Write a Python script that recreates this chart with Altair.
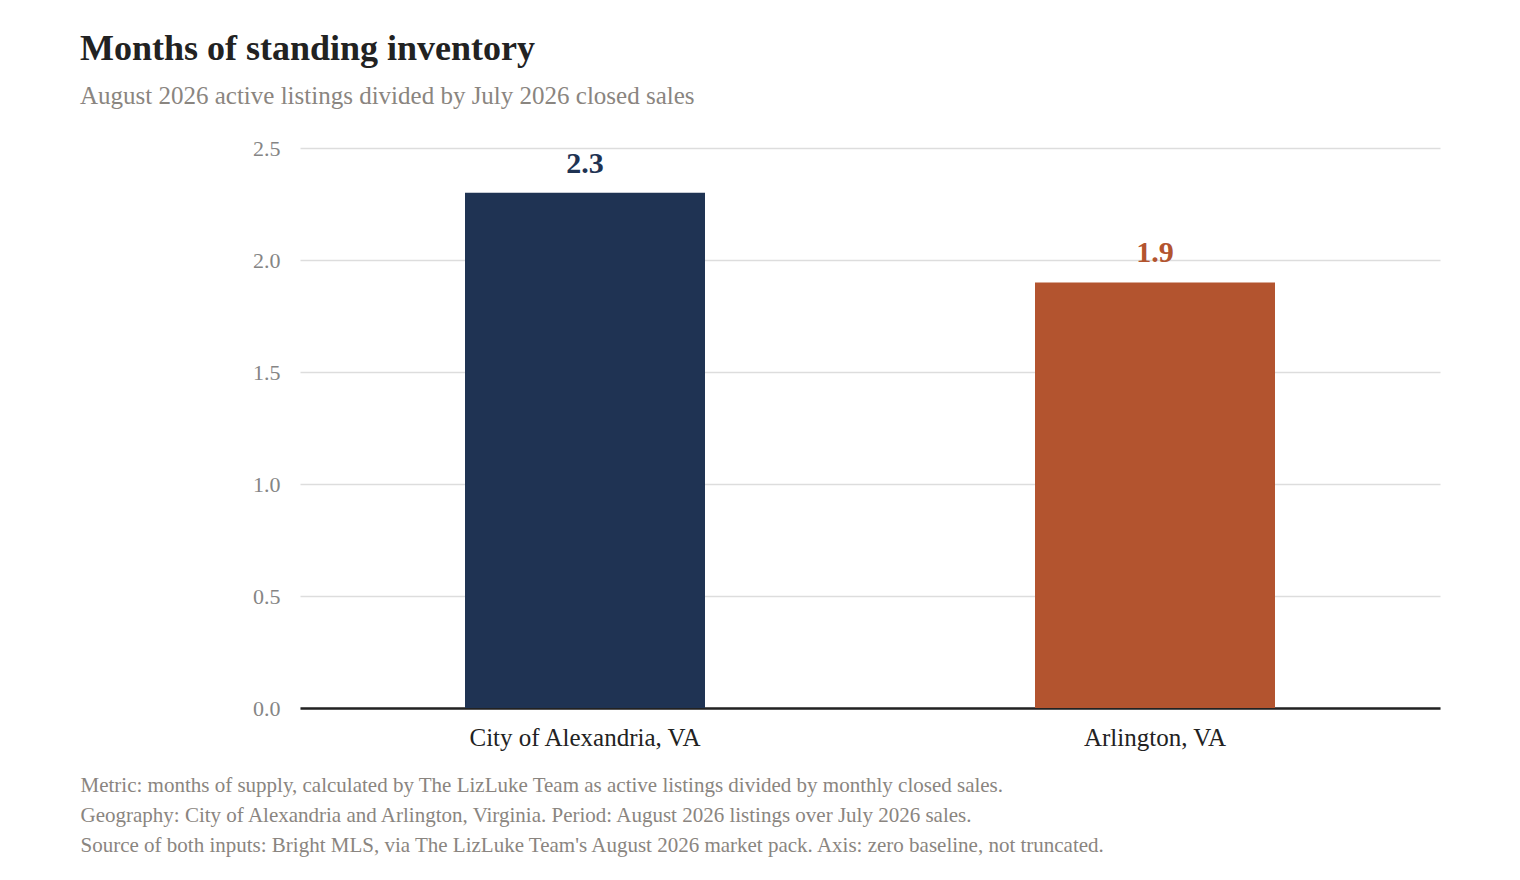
import altair as alt
import pandas as pd

regions = ["City of Alexandria, VA", "Arlington, VA"]
months_supply = [2.3, 1.9]
bar_colors = ["#1f3353", "#b3542f"]
y_ticks = [0.0, 0.5, 1.0, 1.5, 2.0, 2.5]

title_text = "Months of standing inventory"
subtitle_text = "August 2026 active listings divided by July 2026 closed sales"
footer_lines = [
    "Metric: months of supply, calculated by The LizLuke Team as active listings divided by monthly closed sales.",
    "Geography: City of Alexandria and Arlington, Virginia. Period: August 2026 listings over July 2026 sales.",
    "Source of both inputs: Bright MLS, via The LizLuke Team's August 2026 market pack. Axis: zero baseline, not truncated.",
]

df = pd.DataFrame({"region": regions, "value": months_supply})
FONT = "Liberation Serif"

x_enc = alt.X(
    "region:N",
    sort=regions,
    scale=alt.Scale(paddingInner=0, paddingOuter=0),
    axis=alt.Axis(
        title=footer_lines,
        titleFont=FONT,
        titleFontSize=21,
        titleFontWeight="normal",
        titleColor="#8a8580",
        titleAnchor="start",
        titleAlign="left",
        titleBaseline="top",
        titleLineHeight=30,
        titleX=-220,
        titleY=66,
        labelFont=FONT,
        labelFontSize=25,
        labelColor="#222222",
        labelPadding=17,
        labelAngle=0,
        labelLimit=0,
        ticks=False,
        grid=False,
        domainColor="#222222",
        domainWidth=2.5,
    ),
)
color_enc = alt.Color(
    "region:N", scale=alt.Scale(domain=regions, range=bar_colors), legend=None
)

bars = alt.Chart(df).mark_bar(size=240).encode(
    x=x_enc,
    y=alt.Y(
        "value:Q",
        scale=alt.Scale(domain=[0, 2.5], nice=False),
        axis=alt.Axis(
            title=None,
            values=y_ticks,
            format=".1f",
            labelFont=FONT,
            labelFontSize=22,
            labelColor="#858585",
            labelPadding=20,
            ticks=False,
            domain=False,
            gridColor="#dddddd",
            gridWidth=1.5,
        ),
    ),
    color=color_enc,
)

labels = alt.Chart(df).mark_text(
    font=FONT, fontSize=30, fontWeight="bold", baseline="bottom", dy=-14
).encode(
    x=alt.X("region:N", sort=regions),
    y="value:Q",
    text=alt.Text("value:Q", format=".1f"),
    color=color_enc,
)

chart = (
    alt.layer(bars, labels)
    .properties(
        width=1140,
        height=560,
        padding={"left": 72, "top": 23, "right": 60, "bottom": 10},
        view=alt.ViewBackground(strokeOpacity=0, strokeWidth=0),
        title=alt.TitleParams(
            text=title_text,
            subtitle=subtitle_text,
            font=FONT,
            fontSize=36,
            fontWeight="bold",
            color="#222222",
            subtitleFont=FONT,
            subtitleFontSize=25,
            subtitleColor="#8a8580",
            subtitlePadding=16,
            anchor="start",
            frame="group",
            dx=-220,
            offset=27,
        ),
    )
    .configure_view(strokeOpacity=0, strokeWidth=0)
    .configure_axisX(grid=False)
    .configure(background="white")
)

chart.save("out.html", embed_options={"renderer": "svg", "actions": False})
